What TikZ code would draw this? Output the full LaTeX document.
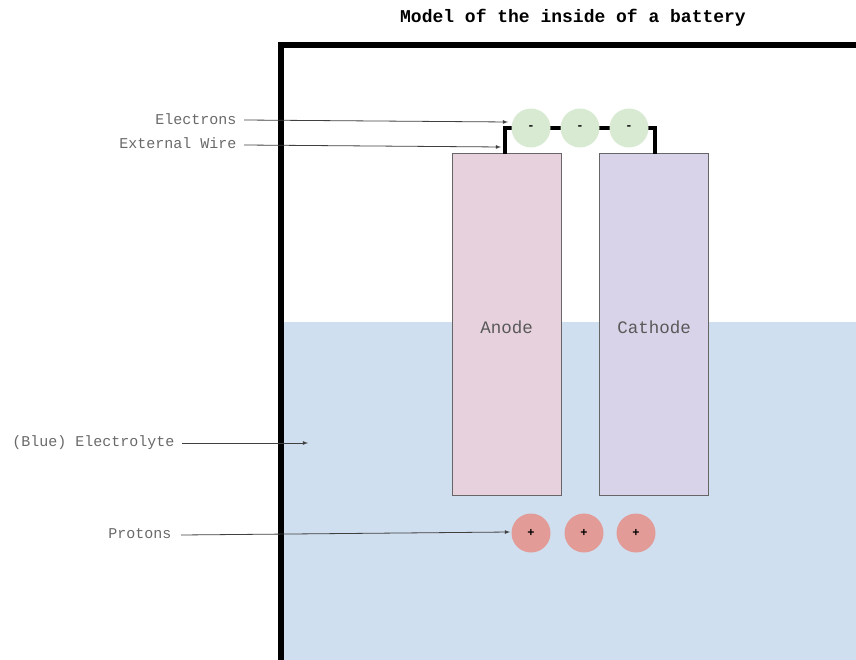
\documentclass[tikz,border=0pt]{standalone}
\usepackage{fontspec}
\setmonofont{Liberation Mono}
\definecolor{electrolyte}{RGB}{207,223,240}
\definecolor{anodefill}{RGB}{230,209,220}
\definecolor{cathodefill}{RGB}{217,211,233}
\definecolor{electronfill}{RGB}{217,234,211}
\definecolor{protonfill}{RGB}{226,155,150}
\definecolor{labelgray}{RGB}{105,105,105}
\begin{document}
\begin{tikzpicture}[x=1pt, y=-1pt, font=\ttfamily, >=latex,
    label/.style={anchor=east, text=labelgray, font=\ttfamily\fontsize{15}{15}\selectfont},
    electrode/.style={draw=black!60, line width=1pt, minimum width=109pt, minimum height=341pt, text=black!65, text height=20pt, text depth=3pt, font=\ttfamily\fontsize{17.5}{17.5}\selectfont},
    particle/.style={circle, minimum size=39pt, inner sep=0pt, font=\ttfamily\bfseries\fontsize{12}{12}\selectfont},
    pointer/.style={->, black!75, line width=0.8pt}]
        \clip (0,0) rectangle (856,660);

        % Title
        \node[font=\ttfamily\bfseries\fontsize{18}{18}\selectfont] (title) at (573,18) {Model of the inside of a battery};

        % Electrolyte and battery case
        \fill[electrolyte] (284,322) rectangle (860,664);
        \draw[line width=6pt] (281,664) -- (281,45) -- (860,45);

        % Electrodes
        \node[electrode, fill=anodefill] (anode) at (506.5,324.5) {Anode};
        \node[electrode, fill=cathodefill] (cathode) at (654,324.5) {Cathode};

        % External wire
        \draw[line width=3.5pt] (505,154) -- (505,128) -- (655,128) -- (655,154);

        % Electrons and protons
        \foreach \x/\n in {531/1,580/2,629/3} {
                \node[particle, fill=electronfill] (e\n) at (\x,128) {-};
            }
        \foreach \x/\n in {531/1,584/2,636/3} {
                \node[particle, fill=protonfill] (p\n) at (\x,533) {+};
            }

        % Labels with arrows
        \node[label] (electrons) at (240,119) {Electrons};
        \node[label] (wire) at (240,143) {External Wire};
        \node[label] (solution) at (178,443) {(Blue) Electrolyte};
        \node[label] (protons) at (175,534) {Protons};

        \coordinate (eend) at (508,122);
        \coordinate (wend) at (501,147);
        \coordinate (send) at (308,443);
        \coordinate (pend) at (510,532);

        \draw[pointer] (electrons.east) ++(4,1) -- (eend);
        \draw[pointer] (wire.east) ++(4,2) -- (wend);
        \draw[pointer] (solution.east) ++(4,0) -- (send);
        \draw[pointer] (protons.east) ++(6,1) -- (pend);
    \end{tikzpicture}
\end{document}
